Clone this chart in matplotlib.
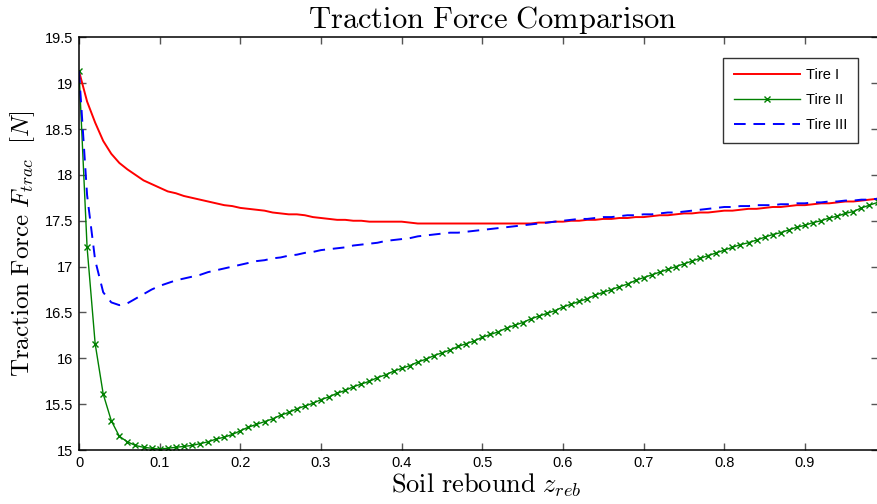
import matplotlib
matplotlib.use("Agg")
import matplotlib.pyplot as plt
import numpy as np

plt.rcParams['mathtext.fontset'] = 'cm'
plt.rcParams['font.family'] = ['Liberation Sans', 'DejaVu Sans']

# soil rebound values, step 0.01
z_reb = np.arange(100) * 0.01

tire_1 = [19.13, 18.80, 18.57, 18.37, 18.23, 18.13, 18.06, 18.00, 17.94, 17.90,
          17.86, 17.82, 17.80, 17.77, 17.75, 17.73, 17.71, 17.69, 17.67, 17.66,
          17.64, 17.63, 17.62, 17.61, 17.59, 17.58, 17.57, 17.57, 17.56, 17.54,
          17.53, 17.52, 17.51, 17.51, 17.50, 17.50, 17.49, 17.49, 17.49, 17.49,
          17.49, 17.48, 17.47, 17.47, 17.47, 17.47, 17.47, 17.47, 17.47, 17.47,
          17.47, 17.47, 17.47, 17.47, 17.47, 17.47, 17.47, 17.48, 17.48, 17.49,
          17.49, 17.50, 17.50, 17.51, 17.51, 17.52, 17.52, 17.53, 17.53, 17.54,
          17.54, 17.55, 17.56, 17.56, 17.57, 17.58, 17.58, 17.59, 17.59, 17.60,
          17.61, 17.61, 17.62, 17.63, 17.63, 17.64, 17.65, 17.65, 17.66, 17.67,
          17.67, 17.68, 17.69, 17.69, 17.70, 17.71, 17.71, 17.72, 17.73, 17.74]

tire_2 = [19.13, 17.21, 16.16, 15.61, 15.32, 15.15, 15.09, 15.05, 15.03, 15.02,
          15.01, 15.02, 15.03, 15.04, 15.05, 15.07, 15.09, 15.12, 15.14, 15.17,
          15.21, 15.25, 15.28, 15.31, 15.34, 15.38, 15.41, 15.45, 15.48, 15.51,
          15.55, 15.58, 15.62, 15.65, 15.69, 15.72, 15.75, 15.79, 15.82, 15.86,
          15.89, 15.92, 15.96, 15.99, 16.03, 16.06, 16.09, 16.13, 16.16, 16.19,
          16.23, 16.26, 16.29, 16.33, 16.36, 16.39, 16.43, 16.46, 16.49, 16.52,
          16.56, 16.59, 16.62, 16.65, 16.69, 16.72, 16.75, 16.78, 16.81, 16.85,
          16.88, 16.91, 16.94, 16.97, 17.00, 17.03, 17.06, 17.09, 17.12, 17.15,
          17.18, 17.21, 17.24, 17.26, 17.29, 17.32, 17.35, 17.37, 17.40, 17.43,
          17.45, 17.48, 17.50, 17.53, 17.55, 17.58, 17.60, 17.64, 17.67, 17.70]

tire_3 = [19.13, 17.78, 17.07, 16.72, 16.61, 16.58, 16.60, 16.65, 16.70, 16.75,
          16.79, 16.82, 16.85, 16.87, 16.89, 16.91, 16.94, 16.96, 16.98, 17.00,
          17.02, 17.04, 17.06, 17.07, 17.09, 17.10, 17.12, 17.13, 17.15, 17.16,
          17.18, 17.19, 17.20, 17.21, 17.23, 17.24, 17.25, 17.26, 17.28, 17.29,
          17.30, 17.31, 17.33, 17.34, 17.35, 17.36, 17.37, 17.37, 17.38, 17.39,
          17.40, 17.41, 17.42, 17.43, 17.44, 17.45, 17.46, 17.47, 17.48, 17.49,
          17.50, 17.51, 17.52, 17.52, 17.53, 17.54, 17.54, 17.55, 17.56, 17.56,
          17.57, 17.57, 17.58, 17.59, 17.59, 17.60, 17.61, 17.62, 17.63, 17.64,
          17.65, 17.65, 17.66, 17.66, 17.67, 17.67, 17.67, 17.68, 17.68, 17.69,
          17.69, 17.70, 17.70, 17.71, 17.71, 17.72, 17.72, 17.73, 17.73, 17.74]

labels = ['Tire I', 'Tire II', 'Tire III']
x_ticks = [0, 0.1, 0.2, 0.3, 0.4, 0.5, 0.6, 0.7, 0.8, 0.9]
y_ticks = [15, 15.5, 16, 16.5, 17, 17.5, 18, 18.5, 19, 19.5]

fig = plt.figure(figsize=(8.78, 5.04), dpi=100)
ax = fig.add_axes([0.090, 0.107, 0.9095, 0.819])

ax.plot(z_reb, tire_1, color='red', lw=1.4, label=labels[0])
ax.plot(z_reb, tire_2, color=(0, 0.5, 0), lw=1.0, marker='x', ms=4, mew=1.0,
        label=labels[1])
ax.plot(z_reb, tire_3, color='blue', lw=1.4, ls=(0, (6, 4)), label=labels[2])

ax.set_xlim(0, 0.99)
ax.set_ylim(15, 19.5)
ax.set_xticks(x_ticks)
ax.set_xticklabels([f'{t:g}' for t in x_ticks])
ax.set_yticks(y_ticks)
ax.set_yticklabels([f'{t:g}' for t in y_ticks])
ax.tick_params(direction='in', length=5, width=1, color='#555555',
               top=True, right=True, labelsize=10.5, pad=4)
for s in ax.spines.values():
    s.set_linewidth(1.1)

ax.set_title(r'$\mathrm{Traction\ Force\ Comparison}$', fontsize=22, pad=7, x=0.517)
ax.set_xlabel(r'$\mathrm{Soil\ rebound}\ z_{reb}$', fontsize=19, labelpad=1, x=0.51)
ax.set_ylabel(r'$\mathrm{Traction\ Force}\ F_{trac}\ \ [N]$', fontsize=18, labelpad=6)

leg = ax.legend(loc='upper right', bbox_to_anchor=(0.976, 0.951), borderaxespad=0,
                fancybox=False, edgecolor='black', fontsize=10.5, handlelength=4.5,
                handletextpad=0.45, labelspacing=0.75, borderpad=0.75)
leg.get_frame().set_linewidth(1.0)

fig.savefig('out.png', dpi=100)
